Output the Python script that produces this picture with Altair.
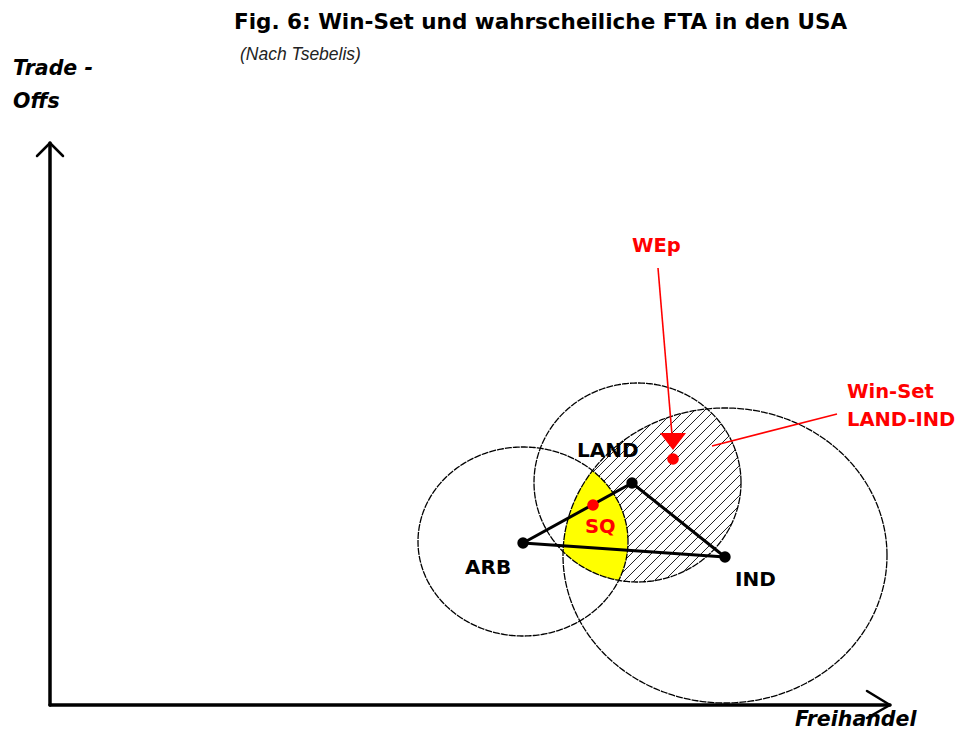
import altair as alt
import numpy as np
import pandas as pd

# Diagram coordinates: origin at the corner of the two axes, 1 unit ~ 1 px
X_DOMAIN = [-42, 907]
Y_DOMAIN = [-26, 697]

TITLE = ["Fig. 6: Win-Set und wahrscheiliche FTA in den USA"]
TITLE_X = [184]
TITLE_Y = [676]
SUBTITLE = ["(Nach Tsebelis)"]
SUBTITLE_X = [190]
SUBTITLE_Y = [645]

AXIS_LABELS = ["Trade -", "Offs", "Freihandel"]
AXIS_LABEL_X = [-37, -37, 745]
AXIS_LABEL_Y = [630, 597, -21]

# axis shafts and arrow heads (from, to)
AXIS_X1 = [0, 0, 840, 840, 0, 0]
AXIS_Y1 = [0, 0, 0, 0, 562, 562]
AXIS_X2 = [840, 0, 817, 817, -13, 13]
AXIS_Y2 = [0, 562, 14, -13, 549, 549]
AXIS_W = [3.5, 3.5, 2.5, 2.5, 2.5, 2.5]

# ideal points of the players
PLAYERS = ["ARB", "LAND", "IND"]
PLAYER_X = [473, 582, 675]
PLAYER_Y = [162, 222, 148]
PLAYER_LABEL_X = [415, 527, 685]
PLAYER_LABEL_Y = [131, 248, 119]

# indifference curves through the status quo (centre, radii)
CIRCLE_CX = [473, 587.5, 675]
CIRCLE_CY = [163.5, 222.5, 149.5]
CIRCLE_RX = [105, 103.5, 162]
CIRCLE_RY = [94.5, 99.5, 147.5]

# red points
RED_POINTS = ["SQ", "WEp"]
RED_X = [543, 623]
RED_Y = [200, 246]

RED_LABELS = ["SQ", "WEp", "Win-Set", "LAND-IND"]
RED_LABEL_X = [535, 582, 797, 797]
RED_LABEL_Y = [172, 453, 307, 279]

# red pointer lines
POINTER_X1 = [608, 787]
POINTER_Y1 = [437, 291]
POINTER_X2 = [622, 662]
POINTER_Y2 = [270, 259]
# arrow head of the WEp pointer
HEAD_X = [610, 623, 636]
HEAD_Y = [272, 255, 272]
HEAD_Y2 = [272, 272, 272]

HATCH_STEP = 10


def ellipse_outline(i):
    t = np.linspace(0, 2 * np.pi, 361)
    return pd.DataFrame({
        "name": PLAYERS[i],
        "order": np.arange(t.size),
        "x": CIRCLE_CX[i] + CIRCLE_RX[i] * np.cos(t),
        "y": CIRCLE_CY[i] + CIRCLE_RY[i] * np.sin(t),
    })


def region_slices(idx):
    xs = np.arange(300, 900, 0.5)
    lo = np.full(xs.shape, -np.inf)
    hi = np.full(xs.shape, np.inf)
    ok = np.ones(xs.shape, dtype=bool)
    for i in idx:
        u = (xs - CIRCLE_CX[i]) / CIRCLE_RX[i]
        inside = np.abs(u) <= 1
        ok &= inside
        h = CIRCLE_RY[i] * np.sqrt(np.clip(1 - u ** 2, 0, None))
        lo = np.maximum(lo, CIRCLE_CY[i] - h)
        hi = np.minimum(hi, CIRCLE_CY[i] + h)
    ok &= hi > lo
    return pd.DataFrame({"x": xs[ok], "y": lo[ok], "y2": hi[ok]})


def hatch_segments(idx):
    rows = []
    for c in np.arange(-800, 400, HATCH_STEP):
        t0, t1 = -np.inf, np.inf
        empty = False
        for i in idx:
            cx, cy, rx, ry = CIRCLE_CX[i], CIRCLE_CY[i], CIRCLE_RX[i], CIRCLE_RY[i]
            a = 1 / rx ** 2 + 1 / ry ** 2
            b = -2 * cx / rx ** 2 + 2 * (c - cy) / ry ** 2
            k = cx ** 2 / rx ** 2 + (c - cy) ** 2 / ry ** 2 - 1
            d = b * b - 4 * a * k
            if d <= 0:
                empty = True
                break
            r1 = (-b - np.sqrt(d)) / (2 * a)
            r2 = (-b + np.sqrt(d)) / (2 * a)
            t0, t1 = max(t0, r1), min(t1, r2)
        if empty or t1 <= t0:
            continue
        rows.append({"x": t0, "y": t0 + c, "x2": t1, "y2": t1 + c})
    return pd.DataFrame(rows)


xs = alt.Scale(domain=X_DOMAIN, nice=False, zero=False)
ys = alt.Scale(domain=Y_DOMAIN, nice=False, zero=False)
X = alt.X("x:Q", scale=xs, axis=None)
Y = alt.Y("y:Q", scale=ys, axis=None)

outlines = pd.concat([ellipse_outline(i) for i in range(3)], ignore_index=True)
hatch = hatch_segments([1, 2])
yellow = region_slices([0, 1, 2])

axes_df = pd.DataFrame({"x": AXIS_X1, "y": AXIS_Y1, "x2": AXIS_X2, "y2": AXIS_Y2, "w": AXIS_W})
tri_df = pd.DataFrame({
    "x": PLAYER_X, "y": PLAYER_Y,
    "x2": PLAYER_X[1:] + PLAYER_X[:1], "y2": PLAYER_Y[1:] + PLAYER_Y[:1],
})
players_df = pd.DataFrame({"x": PLAYER_X, "y": PLAYER_Y})
player_lbl = pd.DataFrame({"x": PLAYER_LABEL_X, "y": PLAYER_LABEL_Y, "t": PLAYERS})
red_df = pd.DataFrame({"x": RED_X, "y": RED_Y, "n": RED_POINTS})
red_lbl = pd.DataFrame({"x": RED_LABEL_X, "y": RED_LABEL_Y, "t": RED_LABELS})
ptr_df = pd.DataFrame({"x": POINTER_X1, "y": POINTER_Y1, "x2": POINTER_X2, "y2": POINTER_Y2})
head_df = pd.DataFrame({"x": HEAD_X, "y": HEAD_Y, "y2": HEAD_Y2})
title_df = pd.DataFrame({"x": TITLE_X, "y": TITLE_Y, "t": TITLE})
sub_df = pd.DataFrame({"x": SUBTITLE_X, "y": SUBTITLE_Y, "t": SUBTITLE})
axl_df = pd.DataFrame({"x": AXIS_LABEL_X, "y": AXIS_LABEL_Y, "t": AXIS_LABELS})

hatch_layer = alt.Chart(hatch).mark_rule(color="#222222", strokeWidth=1).encode(
    x=X, y=Y, x2="x2:Q", y2="y2:Q")
yellow_layer = alt.Chart(yellow).mark_area(color="#FFFF00", opacity=1).encode(
    x=X, y=Y, y2="y2:Q")
outline_layer = alt.Chart(outlines).mark_line(
    color="black", strokeWidth=1.3, strokeDash=[7, 1]).encode(
    x=X, y=Y, detail="name:N", order="order:Q")
axes_layer = alt.Chart(axes_df).mark_rule(color="black", strokeCap="round").encode(
    x=X, y=Y, x2="x2:Q", y2="y2:Q", strokeWidth=alt.StrokeWidth("w:Q", scale=None))
tri_layer = alt.Chart(tri_df).mark_rule(color="black", strokeWidth=3).encode(
    x=X, y=Y, x2="x2:Q", y2="y2:Q")
players_layer = alt.Chart(players_df).mark_circle(color="black", size=130, opacity=1).encode(
    x=X, y=Y)
ptr_layer = alt.Chart(ptr_df).mark_rule(color="#FF0000", strokeWidth=1.6).encode(
    x=X, y=Y, x2="x2:Q", y2="y2:Q")
head_layer = alt.Chart(head_df).mark_area(color="#FF0000", opacity=1).encode(
    x=X, y=Y, y2="y2:Q")
red_layer = alt.Chart(red_df).mark_circle(color="#FF0000", size=135, opacity=1).encode(
    x=X, y=Y)

bold = dict(font="DejaVu Sans", fontWeight="bold", align="left", baseline="alphabetic")
player_text = alt.Chart(player_lbl).mark_text(color="black", fontSize=20, **bold).encode(
    x=X, y=Y, text="t:N")
red_text = alt.Chart(red_lbl).mark_text(color="#FF0000", fontSize=19.5, **bold).encode(
    x=X, y=Y, text="t:N")
title_text = alt.Chart(title_df).mark_text(color="black", fontSize=21.5, **bold).encode(
    x=X, y=Y, text="t:N")
axis_text = alt.Chart(axl_df).mark_text(
    color="black", fontStyle="italic", fontSize=20.5, **bold).encode(
    x=X, y=Y, text="t:N")
sub_text = alt.Chart(sub_df).mark_text(
    color="#222222", font="Liberation Sans", fontStyle="italic", fontSize=17.5,
    align="left", baseline="alphabetic").encode(x=X, y=Y, text="t:N")

chart = alt.layer(
    hatch_layer, yellow_layer, outline_layer, axes_layer, tri_layer, players_layer,
    ptr_layer, head_layer, red_layer, player_text, red_text, title_text, axis_text, sub_text,
).properties(
    width=949, height=723, padding=0,
    autosize=alt.AutoSizeParams(type="none"),
).configure_view(strokeWidth=0, stroke="transparent")

chart.save("out.html", embed_options={"renderer": "svg", "actions": False})
